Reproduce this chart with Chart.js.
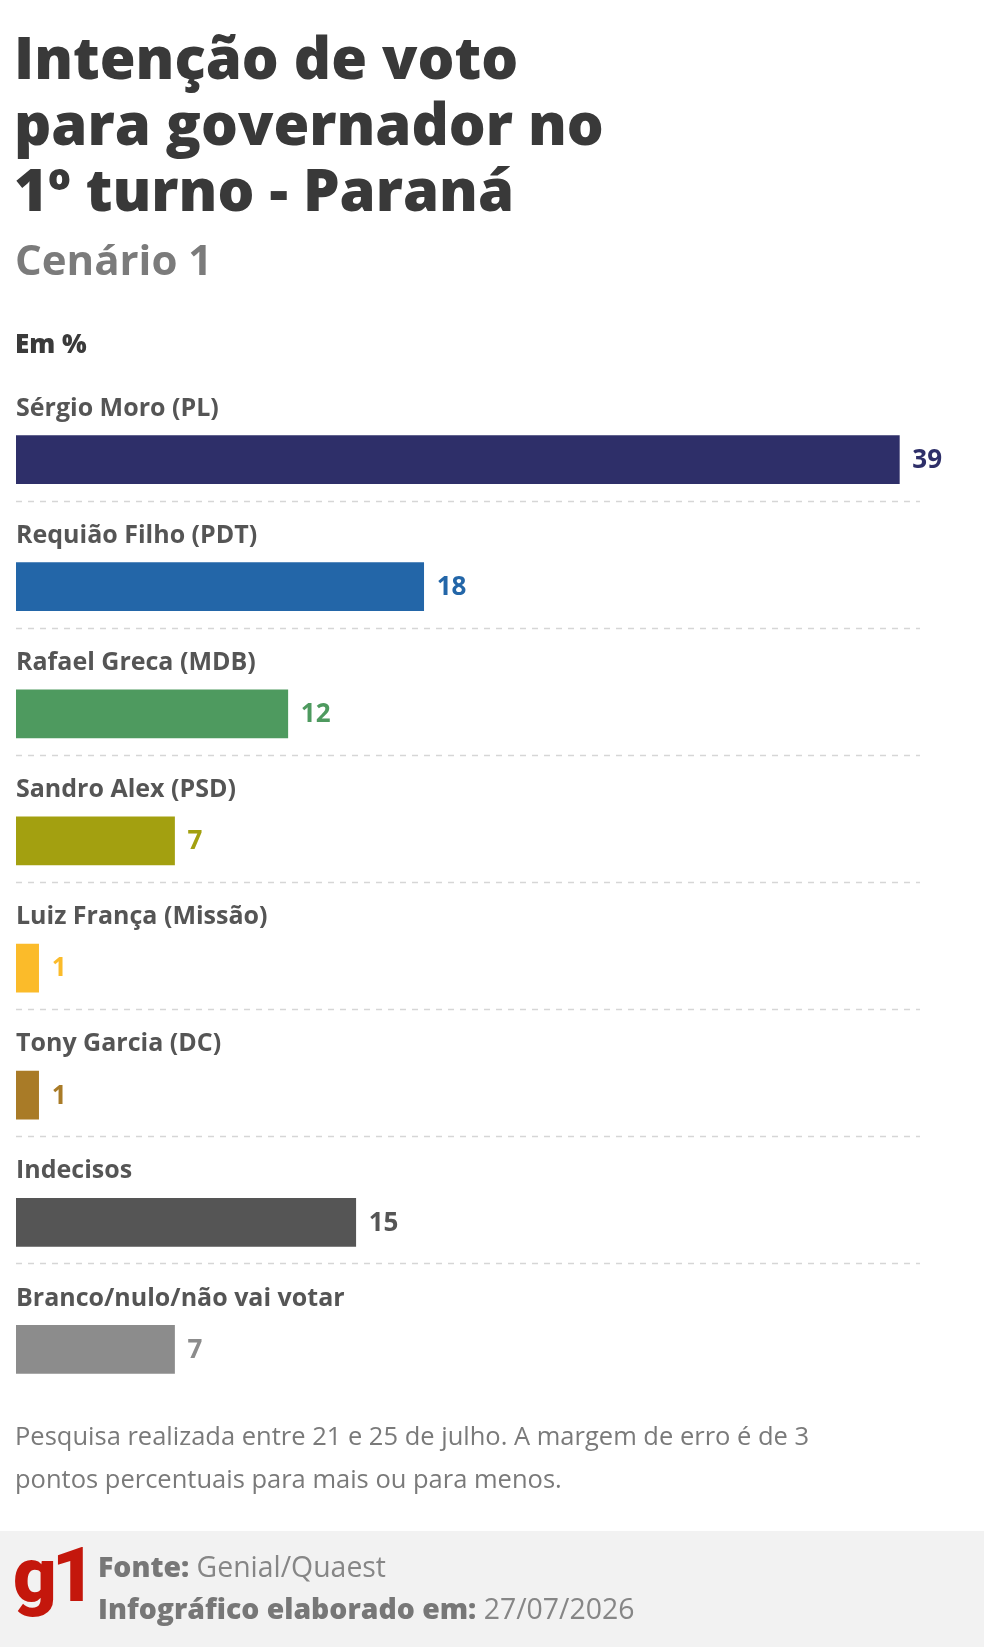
<!DOCTYPE html>
<html lang="pt-BR">
<head>
<meta charset="utf-8">
<script src="https://cdn.jsdelivr.net/npm/chart.js@4.4.1/dist/chart.umd.min.js"></script>
<style>
  html, body { margin: 0; padding: 0; background: #fff; }
  body { width: 984px; height: 1647px; position: relative; overflow: hidden; font-family: "Open Sans", Lato, sans-serif; }
  #footer { position: absolute; left: 0; top: 1531px; width: 984px; height: 116px; background: #f2f2f2; }
  #chartWrap { position: absolute; left: 0; top: 0; width: 984px; height: 1647px; }
  .t { position: absolute; white-space: nowrap; }
  #title { left: 14px; top: 24px; font-size: 58px; font-weight: 800; color: #393939; line-height: 66px; letter-spacing: 0px; }
  #sub { left: 15px; top: 230px; font-size: 42px; font-weight: 700; color: #7b7b7b; }
  #em { left: 15px; top: 325px; font-size: 26px; font-weight: 800; color: #3a3a3a; }
  #note { left: 15px; top: 1414px; font-size: 25.5px; color: #7a7a7a; line-height: 43px; }
  #logo { left: 13px; top: 1530px; font-family: Roboto, "DejaVu Sans", sans-serif; font-size: 76px; font-weight: 900; color: #c4170c; letter-spacing: -5px; }
  #src { left: 98px; top: 1545px; font-size: 28.4px; color: #868686; line-height: 42px; }
  #src b { color: #777; font-weight: 800; }
</style>
</head>
<body>
<div id="footer"></div>
<div id="chartWrap"><canvas id="c" width="984" height="1647"></canvas></div>
<div class="t" id="title">Intenção de voto<br>para governador no<br>1º turno - Paraná</div>
<div class="t" id="sub">Cenário 1</div>
<div class="t" id="em">Em %</div>
<div class="t" id="note">Pesquisa realizada entre 21 e 25 de julho. A margem de erro é de 3<br>pontos percentuais para mais ou para menos.</div>
<div class="t" id="logo">g1</div>
<div class="t" id="src"><b>Fonte:</b> Genial/Quaest<br><b>Infográfico elaborado em:</b> 27/07/2026</div>
<script>
const categories = ["Sérgio Moro (PL)", "Requião Filho (PDT)", "Rafael Greca (MDB)", "Sandro Alex (PSD)", "Luiz França (Missão)", "Tony Garcia (DC)", "Indecisos", "Branco/nulo/não vai votar"];
const values = [39, 18, 12, 7, 1, 1, 15, 7];
const barColors = ["#2e2f69", "#2366a8", "#4e9a5f", "#a3a010", "#fbbb2a", "#a97b27", "#555555", "#8c8c8c"];

const valueLabels = {
  id: 'valueLabels',
  afterDatasetsDraw(chart) {
    const ctx = chart.ctx;
    const meta = chart.getDatasetMeta(0);
    ctx.save();
    ctx.font = '700 26px "Open Sans", Lato, sans-serif';
    ctx.textBaseline = 'middle';
    ctx.textAlign = 'left';
    meta.data.forEach((bar, i) => {
      ctx.fillStyle = barColors[i];
      ctx.fillText(String(values[i]), bar.x + 13, bar.y + 1);
    });
    ctx.restore();
  }
};

const dashedRows = {
  id: 'dashedRows',
  beforeDatasetsDraw(chart) {
    const ctx = chart.ctx;
    const y = chart.scales.y;
    const area = chart.chartArea;
    ctx.save();
    ctx.strokeStyle = '#d6d6d6';
    ctx.lineWidth = 1.5;
    ctx.setLineDash([6, 6]);
    for (let i = 0; i < categories.length - 1; i++) {
      const py = Math.round(y.getPixelForValue(i) + 41) + 0.5;
      ctx.beginPath();
      ctx.moveTo(area.left, py);
      ctx.lineTo(area.right - 2, py);
      ctx.stroke();
    }
    ctx.restore();
  }
};

new Chart(document.getElementById('c'), {
  type: 'bar',
  data: {
    labels: categories,
    datasets: [{
      data: values,
      backgroundColor: barColors,
      borderWidth: 0,
      barThickness: 48,
      categoryPercentage: 1,
      barPercentage: 1
    }]
  },
  options: {
    indexAxis: 'y',
    responsive: false,
    animation: false,
    events: [],
    layout: { padding: { top: 396, left: 16, right: 62, bottom: 234 } },
    plugins: { legend: { display: false }, tooltip: { enabled: false } },
    scales: {
      x: {
        display: false,
        min: 0,
        max: 40
      },
      y: {
        position: 'left',
        grid: { display: false, drawTicks: false },
        border: { display: false },
        ticks: {
          mirror: true,
          padding: 0,
          labelOffset: -51,
          color: '#555555',
          font: { family: '"Open Sans", Lato, sans-serif', size: 25, weight: '700' }
        }
      }
    }
  },
  plugins: [dashedRows, valueLabels]
});
</script>
</body>
</html>
